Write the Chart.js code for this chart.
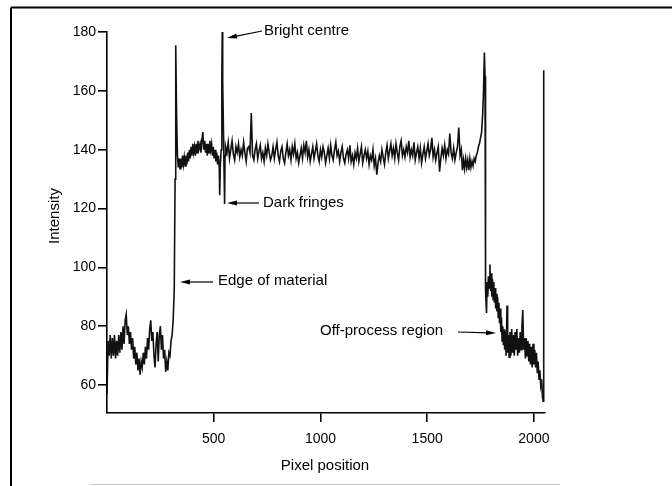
<!DOCTYPE html>
<html>
<head>
<meta charset="utf-8">
<script src="https://cdn.jsdelivr.net/npm/chart.js@4.4.1/dist/chart.umd.min.js"></script>
<style>
  body { margin: 0; background: #fff; }
  #wrap { width: 672px; height: 486px; }
</style>
</head>
<body>
<div id="wrap"><canvas id="profileChart" width="672" height="486"></canvas></div>
<script>
const offLeftPos = [0, 5, 10, 15, 20, 25, 30, 35, 40, 45, 50, 55, 60, 65, 70, 75, 80, 85, 90, 95,
  100, 105, 110, 115, 120, 125, 130, 135, 140, 145, 150, 155, 160, 165, 170, 175, 180, 185, 190, 195,
  200, 205, 210, 215, 220, 225, 230, 235, 240, 245, 250, 255, 260, 265, 270, 275, 280, 285, 290, 295,
  300, 305, 310, 315, 319, 322];
const offLeftInt = [57, 75, 70, 77, 69, 76, 70, 77, 69, 75, 70, 77, 71, 78, 72, 80, 74, 82, 84, 77,
  80, 74, 78, 72, 76, 69, 73, 67, 71, 65, 69, 63.5, 68, 66, 71, 67, 73, 69, 76, 72,
  79, 82, 75, 78, 70, 66, 74, 78, 68, 77, 80, 72, 77, 69, 72, 64.5, 68, 65, 71, 70,
  75, 77, 82, 92, 130, 175.5];

const fringePos = [326, 330, 334, 338, 342, 346, 350, 354, 358, 362, 366, 370, 374, 378, 382, 386, 390, 394, 398,
  402, 406, 410, 414, 418, 422, 426, 430, 436, 440, 444, 449, 453, 458, 462, 466, 470, 474, 478, 482, 486,
  490, 494, 498, 502, 506, 510, 514, 518, 522, 526, 528, 531, 535, 538, 540, 542, 546, 549, 551, 553, 556];
const fringeInt = [152, 138, 134, 137, 133.5, 137, 134, 138, 135, 137.5, 134.5, 138, 135, 139, 136, 140, 137, 141, 138,
  142, 139, 141, 138, 142, 139, 143, 140, 142, 139, 143, 146, 140, 143, 139, 142, 138, 142, 139, 143, 140,
  142, 138, 141, 137, 140, 136, 139, 135, 138, 134, 124.5, 135, 140, 165, 180, 163, 145, 130, 121.5, 138, 141];

const plateauPos = [562, 568, 574, 580, 586, 592, 598, 604, 610, 616,
  622, 628, 634, 640, 646, 652, 658, 664, 670, 676,
  682, 688, 694, 700, 706, 712, 718, 724, 730, 736,
  742, 748, 754, 760, 766, 772, 778, 784, 790, 796,
  802, 808, 814, 820, 826, 832, 838, 844, 850, 856,
  862, 868, 874, 880, 886, 892, 898, 904, 910, 916,
  922, 928, 934, 940, 946, 952, 958, 964, 970, 976,
  982, 988, 994, 1000, 1006, 1012, 1018, 1024, 1030, 1036,
  1042, 1048, 1054, 1060, 1066, 1072, 1078, 1084, 1090, 1096,
  1102, 1108, 1114, 1120, 1126, 1132, 1138, 1144, 1150, 1156,
  1162, 1168, 1174, 1180, 1186, 1192, 1198, 1204, 1210, 1216,
  1222, 1228, 1234, 1240, 1246, 1252, 1258, 1264, 1270, 1276,
  1282, 1288, 1294, 1300, 1306, 1312, 1318, 1324, 1330, 1336,
  1342, 1348, 1354, 1360, 1366, 1372, 1378, 1384, 1390, 1396,
  1402, 1408, 1414, 1420, 1426, 1432, 1438, 1444, 1450, 1456,
  1462, 1468, 1474, 1480, 1486, 1492, 1498, 1504, 1510, 1516,
  1522, 1528, 1534, 1540, 1546, 1552, 1558, 1564, 1570, 1576,
  1582, 1588, 1594, 1600, 1606, 1612, 1618, 1624, 1630, 1636,
  1642, 1648, 1654, 1660];
const plateauInt = [139, 142.5, 137, 140, 143, 138.5, 136.5, 141, 139, 142,
  137.5, 140, 138, 142.5, 139, 136, 140.5, 141, 139, 152.5,
  138, 136.5, 140, 142, 137, 139.5, 141.5, 137, 139, 136,
  140.5, 138, 142, 139, 136.5, 138, 141, 137, 140, 142.5,
  138, 136, 139.5, 141, 137, 135.5, 139, 142, 138, 140,
  136.5, 141, 138.5, 142, 137, 139, 135.5, 138, 140.5, 137,
  141.5, 139, 143, 137.5, 140, 136, 138.5, 141, 137, 139.5,
  142, 138, 136, 140, 137.5, 141, 139, 135.5, 138, 140.5,
  137, 141.5, 138, 136.5, 140, 142.5, 138, 139.5, 136, 139,
  141, 137, 135.5, 138.5, 140, 137, 141.5, 136, 138, 135,
  139, 137, 140.5, 136, 138.5, 141, 135.5, 138, 140, 137,
  139.5, 135, 138, 136.5, 140, 134.5, 137, 131.5, 135.5, 138,
  136, 140, 137.5, 135, 139, 141.5, 137, 139.5, 142, 138,
  140.5, 137, 142, 139, 136.5, 141, 143, 138, 140, 137.5,
  141, 139, 143, 137.5, 140, 138, 142.5, 136.5, 139, 141,
  137, 140.5, 135.5, 138.5, 141, 137, 139.5, 142, 138, 140,
  144, 137.5, 140, 136.5, 139, 141, 132.5, 137, 140.5, 138,
  141.5, 137, 140, 138.5, 145.5, 139, 137, 140.5, 136.5, 139,
  141, 147.5, 138, 140];

const riseRightPos = [1665, 1670, 1675, 1680, 1685, 1690, 1695, 1700, 1705, 1710, 1715, 1720, 1725, 1730, 1735,
  1740, 1745, 1750, 1755, 1760, 1764, 1768, 1771];
const riseRightInt = [133, 136.5, 133.5, 137, 134, 136.5, 133, 137, 134, 136, 134.5, 137, 136, 138, 139,
  141, 142, 144, 146, 152, 160, 173, 165];

const offRightPos = [1772, 1775, 1778, 1781, 1784, 1787, 1790, 1794, 1797, 1800, 1803, 1806, 1809, 1812, 1815, 1818, 1821, 1824, 1827, 1830,
  1833, 1836, 1839, 1842, 1845, 1848, 1851, 1854, 1857, 1860, 1863, 1866, 1870, 1874, 1877, 1880, 1884, 1888, 1892, 1896,
  1900, 1904, 1908, 1912, 1916, 1920, 1924, 1928, 1932, 1936, 1940, 1944, 1948, 1952, 1956, 1960, 1964, 1968, 1972, 1976,
  1980, 1984, 1988, 1992, 1996, 2000, 2004, 2008, 2012, 2016, 2020, 2024, 2028, 2032, 2036, 2040, 2043, 2045, 2047];
const offRightInt = [97, 92, 84.5, 95, 90, 97, 93, 101, 92, 98, 90, 96, 89, 95, 88, 93, 86, 91, 85, 90,
  83, 88, 81, 86, 78, 83, 75, 80, 73.5, 79, 72, 78, 70, 87, 71, 77, 69.5, 78, 70, 79,
  71, 77, 70, 78, 72, 79, 70, 76, 71, 78, 72, 80, 85.5, 72, 76, 69, 76, 70, 75, 68,
  74, 67, 73, 66, 74, 67, 72, 66, 71, 64, 68, 62, 65, 60, 62, 56, 54.5, 58, 167];

const xTickValues = [500, 1000, 1500, 2000];
const yTickValues = [60, 80, 100, 120, 140, 160, 180];

const FONT = "'Liberation Sans', Arial, Helvetica, sans-serif";

function toPoints(pos, vals) {
  return pos.map((p, i) => ({ x: p, y: vals[i] }));
}

const trace = []
  .concat(toPoints(offLeftPos, offLeftInt))
  .concat(toPoints(fringePos, fringeInt))
  .concat(toPoints(plateauPos, plateauInt))
  .concat(toPoints(riseRightPos, riseRightInt))
  .concat(toPoints(offRightPos, offRightInt));

function arrow(ctx, x1, y1, x2, y2) {
  // line from (x1,y1), head at (x2,y2)
  const ang = Math.atan2(y2 - y1, x2 - x1);
  const len = 10, half = 2.6;
  ctx.beginPath();
  ctx.moveTo(x1, y1);
  ctx.lineTo(x2 - Math.cos(ang) * len * 0.6, y2 - Math.sin(ang) * len * 0.6);
  ctx.stroke();
  ctx.beginPath();
  ctx.moveTo(x2, y2);
  ctx.lineTo(x2 - Math.cos(ang) * len - Math.sin(ang) * half, y2 - Math.sin(ang) * len + Math.cos(ang) * half);
  ctx.lineTo(x2 - Math.cos(ang) * len + Math.sin(ang) * half, y2 - Math.sin(ang) * len - Math.cos(ang) * half);
  ctx.closePath();
  ctx.fill();
}

const framePlugin = {
  id: 'frame',
  beforeDraw(chart) {
    const ctx = chart.ctx;
    ctx.save();
    ctx.fillStyle = '#fff';
    ctx.fillRect(0, 0, chart.width, chart.height);
    ctx.strokeStyle = '#000';
    ctx.lineWidth = 2;
    ctx.beginPath();
    ctx.moveTo(11, 7.5);
    ctx.lineTo(672, 7.5);
    ctx.moveTo(11, 7.5);
    ctx.lineTo(11, 486);
    ctx.stroke();
    ctx.strokeStyle = '#c8c8c8';
    ctx.lineWidth = 1;
    ctx.beginPath();
    ctx.moveTo(90, 484.5);
    ctx.lineTo(560, 484.5);
    ctx.stroke();
    ctx.restore();
  },
  afterDraw(chart) {
    const ctx = chart.ctx;
    ctx.save();
    ctx.fillStyle = '#000';
    ctx.strokeStyle = '#000';
    ctx.lineWidth = 1.2;
    ctx.font = '15px ' + FONT;
    ctx.textBaseline = 'middle';

    // axis titles
    ctx.textAlign = 'center';
    ctx.fillText('Pixel position', 325, 466);
    ctx.save();
    ctx.translate(55, 216);
    ctx.rotate(-Math.PI / 2);
    ctx.fillText('Intensity', 0, 0);
    ctx.restore();

    // annotations
    ctx.textAlign = 'left';
    ctx.fillText('Bright centre', 264, 31);
    arrow(ctx, 262, 31, 227, 38);
    ctx.fillText('Dark fringes', 263, 203);
    arrow(ctx, 259, 203, 227, 203);
    ctx.fillText('Edge of material', 218, 281);
    arrow(ctx, 213, 282, 180, 282);
    ctx.fillText('Off-process region', 320, 331);
    arrow(ctx, 458, 332, 496, 333);
    ctx.restore();
  }
};

new Chart(document.getElementById('profileChart').getContext('2d'), {
  type: 'scatter',
  data: {
    datasets: [{
      label: 'Intensity',
      data: trace,
      showLine: true,
      borderColor: '#111',
      borderWidth: 1.6,
      pointRadius: 0,
      tension: 0
    }]
  },
  options: {
    responsive: false,
    animation: false,
    layout: { padding: { top: 32, right: 127, bottom: 0, left: 0 } },
    plugins: {
      legend: { display: false },
      tooltip: { enabled: false }
    },
    scales: {
      x: {
        type: 'linear',
        min: 0,
        max: 2052,
        afterBuildTicks: axis => { axis.ticks = xTickValues.map(v => ({ value: v })); },
        afterFit: axis => { axis.height = 73; },
        border: { display: true, color: '#000', width: 1.6 },
        grid: { drawOnChartArea: false, drawTicks: true, tickLength: 9, color: '#000', lineWidth: 1.6 },
        ticks: { color: '#000', font: { family: FONT, size: 14 }, padding: 9, maxRotation: 0,
          callback: v => String(v) }
      },
      y: {
        type: 'linear',
        min: 50.5,
        max: 180,
        afterBuildTicks: axis => { axis.ticks = yTickValues.map(v => ({ value: v })); },
        afterFit: axis => { axis.width = 107; },
        border: { display: true, color: '#000', width: 1.6 },
        grid: { drawOnChartArea: false, drawTicks: true, tickLength: 9, color: '#000', lineWidth: 1.6 },
        ticks: { color: '#000', font: { family: FONT, size: 14 }, padding: 2,
          callback: v => String(v) }
      }
    }
  },
  plugins: [framePlugin]
});
</script>
</body>
</html>
